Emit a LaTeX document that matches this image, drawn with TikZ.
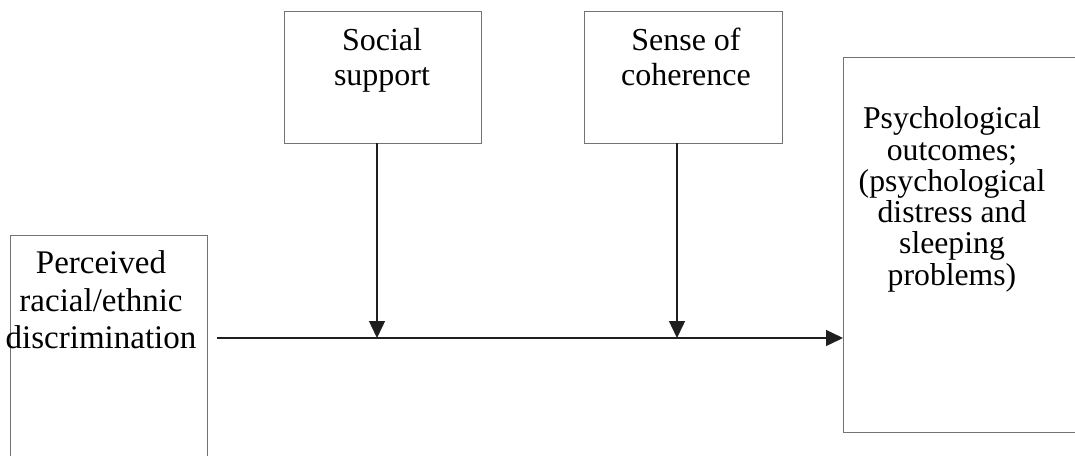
\documentclass[tikz,border=0pt]{standalone}
\usepackage{fontspec}
\setmainfont{Liberation Serif}
\usetikzlibrary{arrows.meta}
\begin{document}
\begin{tikzpicture}[x=1pt,y=-1pt,
  boxline/.style={draw=black!55, line width=1pt},
  conn/.style={draw=black!88, line width=1.4pt, -{Triangle[length=17pt,width=16pt]}},
  lbl/.style={inner sep=0pt, align=center, anchor=north, text=black}]
\useasboundingbox (0,0) rectangle (1075,455);
% boxes (open sides cut by the page)
\draw[boxline] (10,456) -- (10,235) -- (207,235) -- (207,456);
\draw[boxline] (284,11) rectangle (481,143);
\draw[boxline] (584,11) rectangle (782,143);
\draw[boxline] (1076,57) -- (843,57) -- (843,432) -- (1076,432);
% texts
\node[lbl, font=\fontsize{33}{37.5}\selectfont] (disc) at (101,250.5) {Perceived\\racial/ethnic\\discrimination};
\node[lbl, font=\fontsize{32}{35}\selectfont] (soc) at (382,28) {Social\\support};
\node[lbl, font=\fontsize{32}{35}\selectfont] (soc2) at (686,28) {Sense of\\coherence};
\node[lbl, font=\fontsize{31.7}{31.3}\selectfont] (out) at (952,106.6) {Psychological\\outcomes;\\(psychological\\distress and\\sleeping\\problems)};
% connector points
\coordinate (dR) at (217,338);
\coordinate (oL) at (843,338);
\coordinate (sB) at (377,143);
\coordinate (sM) at (377,338);
\coordinate (cB) at (677,143);
\coordinate (cM) at (677,338);
\draw[conn] (dR) -- (oL);
\draw[conn] (sB) -- (sM);
\draw[conn] (cB) -- (cM);
\end{tikzpicture}
\end{document}
